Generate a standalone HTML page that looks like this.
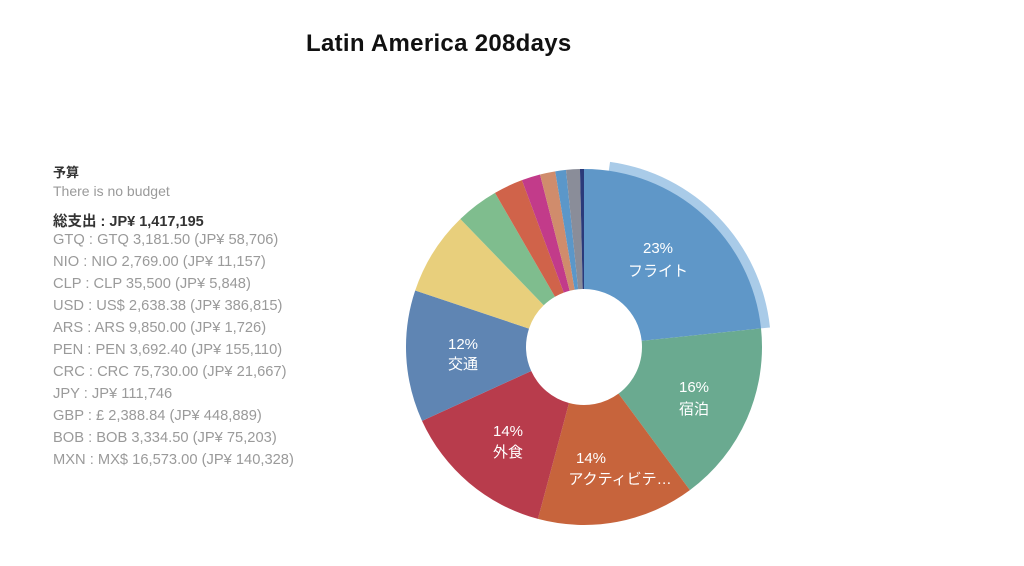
<!DOCTYPE html>
<html><head><meta charset="utf-8"><style>
body{margin:0;width:1024px;height:566px;background:#fff;overflow:hidden;font-family:"Liberation Sans","Noto Sans CJK JP",sans-serif;position:relative}
.t{position:absolute;left:306px;top:30px;font-size:24px;font-weight:bold;color:#111;letter-spacing:0.3px}
.l{position:absolute;left:53px;font-size:14.7px;color:#9a9a9a;white-space:nowrap}
.b{color:#333;font-weight:bold}
svg{position:absolute;left:0;top:0}
</style></head><body>
<div class="t">Latin America 208days</div>
<div class="l b" style="top:162px;font-size:13px">予算</div>
<div class="l" style="top:183px;font-size:14px">There is no budget</div>
<div class="l b" style="top:210px;font-size:14.5px">総支出 : JP¥ 1,417,195</div>
<div class="l" style="top:232px">GTQ : GTQ 3,181.50 (JP¥ 58,706)</div>
<div class="l" style="top:254px">NIO : NIO 2,769.00 (JP¥ 11,157)</div>
<div class="l" style="top:276px">CLP : CLP 35,500 (JP¥ 5,848)</div>
<div class="l" style="top:298px">USD : US$ 2,638.38 (JP¥ 386,815)</div>
<div class="l" style="top:320px">ARS : ARS 9,850.00 (JP¥ 1,726)</div>
<div class="l" style="top:342px">PEN : PEN 3,692.40 (JP¥ 155,110)</div>
<div class="l" style="top:364px">CRC : CRC 75,730.00 (JP¥ 21,667)</div>
<div class="l" style="top:386px">JPY : JP¥ 111,746</div>
<div class="l" style="top:408px">GBP : £ 2,388.84 (JP¥ 448,889)</div>
<div class="l" style="top:430px">BOB : BOB 3,334.50 (JP¥ 75,203)</div>
<div class="l" style="top:452px">MXN : MX$ 16,573.00 (JP¥ 140,328)</div>
<svg width="1024" height="566" id="s">
<g id="g"></g>
<g fill="#fff" font-size="15" text-anchor="middle" font-family="Liberation Sans,Noto Sans CJK JP,sans-serif">
<text x="658" y="253">23%</text><text x="658" y="276">フライト</text>
<text x="694" y="392">16%</text><text x="694" y="414">宿泊</text>
<text x="591" y="463">14%</text><text x="620" y="484">アクティビテ…</text>
<text x="508" y="436">14%</text><text x="508" y="457">外食</text>
<text x="463" y="349">12%</text><text x="463" y="369">交通</text>
</g></svg>
<script>
var cx=584,cy=347,R=178,r=58;
function P(a,rad){a=a*Math.PI/180;return [cx+rad*Math.sin(a),cy-rad*Math.cos(a)];}
function arc(a0,a1,ro,ri,c){var p0=P(a0,ro),p1=P(a1,ro),p2=P(a1,ri),p3=P(a0,ri),lg=(a1-a0)>180?1:0;
return '<path fill="'+c+'" d="M'+p0+' A'+ro+','+ro+' 0 '+lg+' 1 '+p1+' L'+p2+' A'+ri+','+ri+' 0 '+lg+' 0 '+p3+'Z"/>';}
var s=[[0,84,'#5f97c8'],[84,143.5,'#6aaa90'],[143.5,195,'#c7643c'],[195,245.5,'#b83c4c'],[245.5,288.5,'#5f85b3'],[288.5,316,'#e8cf7c'],[316,330,'#7fbd8e'],[330,339.6,'#d0634a'],[339.6,345.7,'#c23b8a'],[345.7,350.7,'#d08c6c'],[350.7,354.2,'#5b97c9'],[354.2,358.7,'#8a8d99'],[358.7,360,'#2b3a7a']];
var h=arc(8,84,187,176,'#a9cbe8');
s.forEach(function(x){h+=arc(x[0],x[1],R,r,x[2]);});
document.getElementById('g').innerHTML=h;
</script>
</body></html>
